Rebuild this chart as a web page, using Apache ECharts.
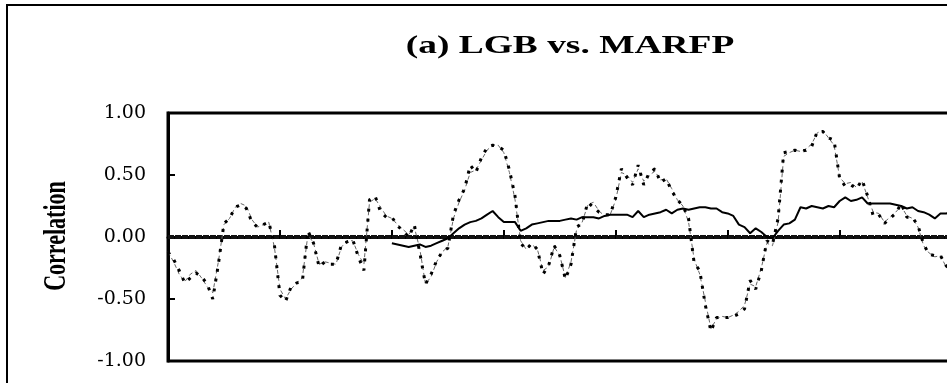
<!DOCTYPE html>
<html>
<head>
<meta charset="utf-8">
<script src="https://cdn.jsdelivr.net/npm/echarts@6/dist/echarts.min.js"></script>
<style>
  html, body { margin: 0; padding: 0; background: #fff; overflow: hidden; width: 947px; height: 383px; }
  #chart { width: 1012px; height: 383px; }
</style>
</head>
<body>
<div id="chart"></div>
<script>
// Rolling correlation series, one value per window step
const lgbDotted = [
  -0.12, -0.18, -0.27, -0.37, -0.33, -0.29, -0.32, -0.38, -0.50, -0.22,
   0.11,  0.15,  0.24,  0.26,  0.23,  0.12,  0.08,  0.10,  0.12, -0.06,
  -0.47, -0.52, -0.40, -0.37, -0.36,  0.05, -0.05, -0.24, -0.20, -0.22,
  -0.22, -0.06, -0.04, -0.02, -0.16, -0.27,  0.30,  0.33,  0.20,  0.16,
   0.16,  0.09,  0.05,  0.00,  0.10, -0.13, -0.38, -0.30, -0.19, -0.12,
  -0.09,  0.18,  0.30,  0.39,  0.58,  0.52,  0.64,  0.72,  0.74,  0.73,
   0.70,  0.54,  0.33, -0.05, -0.10, -0.05, -0.10, -0.30, -0.23, -0.07,
  -0.15, -0.34, -0.22,  0.08,  0.11,  0.28,  0.24,  0.20,  0.18,  0.18,
   0.32,  0.55,  0.48,  0.42,  0.58,  0.42,  0.52,  0.55,  0.44,  0.47,
   0.37,  0.30,  0.25,  0.15, -0.21, -0.27, -0.55, -0.76, -0.65, -0.65,
  -0.65, -0.64, -0.62, -0.58, -0.35, -0.42, -0.27, -0.03, -0.06,  0.15,
   0.68,  0.69,  0.70,  0.69,  0.70,  0.73,  0.85,  0.85,  0.80,  0.78,
   0.47,  0.41,  0.42,  0.39,  0.46,  0.33,  0.17,  0.18,  0.11,  0.15,
   0.19,  0.27,  0.16,  0.16,  0.09, -0.06, -0.14, -0.15, -0.15, -0.23,
  -0.28, -0.26
];

const marfpThin = [
  -0.12, -0.20, -0.30, -0.36, -0.30, -0.27, -0.33, -0.40, -0.45, -0.20,
   0.10,  0.15,  0.24,  0.27,  0.25,  0.14,  0.08,  0.10,  0.12, -0.08,
  -0.42, -0.50, -0.42, -0.37, -0.33,  0.02, -0.05, -0.22, -0.20, -0.21,
  -0.22, -0.08, -0.03, -0.03, -0.14, -0.22,  0.28,  0.31,  0.24,  0.17,
   0.15,  0.10,  0.06,  0.02,  0.08, -0.10, -0.38, -0.32, -0.20, -0.12,
  -0.08,  0.15,  0.28,  0.38,  0.52,  0.54,  0.62,  0.70,  0.74,  0.74,
   0.68,  0.52,  0.30, -0.03, -0.10, -0.06, -0.10, -0.27, -0.24, -0.08,
  -0.15, -0.33, -0.20,  0.06,  0.12,  0.26,  0.28,  0.21,  0.17,  0.18,
   0.30,  0.52,  0.50,  0.44,  0.55,  0.45,  0.50,  0.53,  0.46,  0.47,
   0.39,  0.30,  0.25,  0.12, -0.18, -0.30, -0.52, -0.74, -0.66, -0.64,
  -0.65, -0.63, -0.60, -0.55, -0.38, -0.40, -0.25, -0.05, -0.07,  0.12,
   0.65,  0.68,  0.70,  0.69,  0.71,  0.75,  0.84,  0.86,  0.80,  0.74,
   0.48,  0.43,  0.44,  0.40,  0.45,  0.32,  0.20,  0.19,  0.12,  0.16,
   0.20,  0.25,  0.17,  0.15,  0.08, -0.07, -0.13, -0.16, -0.15, -0.24,
  -0.28, -0.26
];

// Long-window average, available from step 40 onward
const averageStart = 40;
const averageValues = [
  -0.05, -0.06, -0.07, -0.08, -0.07, -0.06, -0.08, -0.07, -0.05, -0.03,
  -0.01,  0.03,  0.07,  0.10,  0.12,  0.13,  0.15,  0.18,  0.21,  0.16,
   0.12,  0.12,  0.12,  0.05,  0.07,  0.10,  0.11,  0.12,  0.13,  0.13,
   0.13,  0.14,  0.15,  0.14,  0.16,  0.16,  0.16,  0.15,  0.17,  0.18,
   0.18,  0.18,  0.18,  0.16,  0.21,  0.16,  0.18,  0.19,  0.20,  0.22,
   0.19,  0.22,  0.23,  0.22,  0.23,  0.24,  0.24,  0.23,  0.23,  0.20,
   0.19,  0.17,  0.10,  0.08,  0.03,  0.07,  0.04,  0.00, -0.01,  0.05,
   0.10,  0.11,  0.14,  0.24,  0.23,  0.25,  0.24,  0.23,  0.25,  0.24,
   0.29,  0.32,  0.29,  0.30,  0.32,  0.27,  0.27,  0.27,  0.27,  0.27,
   0.26,  0.25,  0.23,  0.24,  0.21,  0.20,  0.18,  0.15,  0.19,  0.19,
   0.20,  0.20
];

const stepCount = 150;
const steps = Array.from({ length: stepCount }, (_, i) => String(i + 1));
const yTicks = [-1, -0.5, 0, 0.5, 1];

const averageSeries = new Array(averageStart).fill(null).concat(averageValues);
const zeroLine = steps.map(() => 0);

const chart = echarts.init(document.getElementById('chart'), null, { renderer: 'canvas' });

chart.setOption({
  animation: false,
  backgroundColor: '#fff',
  grid: {
    left: 168, top: 113, bottom: 22, right: 10,
    show: true, borderColor: '#000', borderWidth: 3, backgroundColor: 'transparent'
  },
  xAxis: {
    type: 'category',
    data: steps,
    boundaryGap: false,
    axisLine: { show: true, lineStyle: { color: '#000', width: 3 } },
    axisTick: { show: true, inside: true, length: 7, interval: 19, lineStyle: { color: '#000', width: 2 } },
    axisLabel: { show: false },
    splitLine: { show: false }
  },
  yAxis: {
    type: 'value',
    min: yTicks[0],
    max: yTicks[yTicks.length - 1],
    interval: 0.5,
    axisLine: { show: true, lineStyle: { color: '#000', width: 3 } },
    axisTick: { show: true, inside: true, length: 7, lineStyle: { color: '#000', width: 2 } },
    axisLabel: {
      margin: 22,
      color: '#000',
      fontFamily: '"DejaVu Serif", serif',
      fontSize: 19,
      formatter: v => v.toFixed(2)
    },
    splitLine: { show: false }
  },
  graphic: [
    {
      type: 'rect', silent: true, z: -10,
      shape: { x: 7, y: 5, width: 1000, height: 420 },
      style: { fill: null, stroke: '#000', lineWidth: 2 }
    },
    {
      type: 'text', x: 570, y: 46, scaleX: 1.44,
      style: {
        text: '(a) LGB vs. MARFP',
        font: 'bold 26px "Liberation Serif", serif',
        fill: '#000',
        align: 'center', verticalAlign: 'middle',
        textAlign: 'center', textVerticalAlign: 'middle'
      }
    },
    {
      type: 'text', x: 57, y: 236, rotation: Math.PI / 2, scaleY: 1.4,
      style: {
        text: 'Correlation',
        font: 'bold 22px "Liberation Serif", serif',
        fill: '#000',
        align: 'center', verticalAlign: 'middle',
        textAlign: 'center', textVerticalAlign: 'middle'
      }
    }
  ],
  series: [
    {
      name: 'Zero', type: 'line', data: zeroLine, symbol: 'none', z: 1,
      lineStyle: { color: '#111', width: 4, type: [6, 1] }
    },
    {
      name: 'MARFP', type: 'line', data: marfpThin, symbol: 'none', z: 2,
      lineStyle: { color: '#666', width: 1, type: [4, 3] }
    },
    {
      name: 'LGB', type: 'line', data: lgbDotted, symbol: 'none', z: 3,
      lineStyle: { color: '#000', width: 3, type: [3, 7], cap: 'butt' }
    },
    {
      name: 'Average', type: 'line', data: averageSeries, symbol: 'none', z: 4,
      connectNulls: false,
      lineStyle: { color: '#000', width: 2 }
    }
  ]
});
</script>
</body>
</html>
